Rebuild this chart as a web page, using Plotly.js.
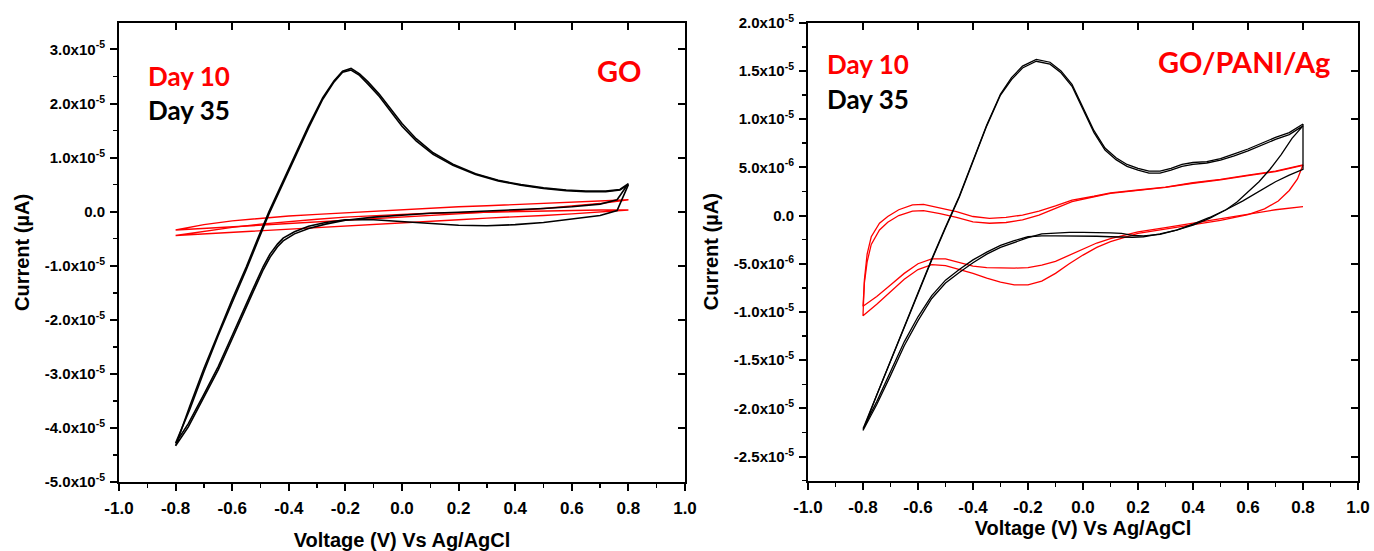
<!DOCTYPE html>
<html>
<head>
<meta charset="utf-8">
<script src="https://cdn.plot.ly/plotly-3.0.1.min.js"></script>
<style>html,body{margin:0;padding:0;background:#fff}#chart{width:1374px;height:551px}</style>
</head>
<body>
<div id="chart"></div>
<script>
// ---------- Axis ticks ----------
const xTickVals = [-1.0,-0.8,-0.6,-0.4,-0.2,0.0,0.2,0.4,0.6,0.8,1.0];
const xTickText = ["-1.0","-0.8","-0.6","-0.4","-0.2","0.0","0.2","0.4","0.6","0.8","1.0"];
// Left panel (GO): current in units of 1e-5
const goYTickVals = [-5,-4,-3,-2,-1,0,1,2,3];
const goYTickText = ["-5.0x10<sup>-5</sup>","-4.0x10<sup>-5</sup>","-3.0x10<sup>-5</sup>","-2.0x10<sup>-5</sup>","-1.0x10<sup>-5</sup>","0.0","1.0x10<sup>-5</sup>","2.0x10<sup>-5</sup>","3.0x10<sup>-5</sup>"];
// Right panel (GO/PANI/Ag): current in units of 1e-6
const paniYTickVals = [-25,-20,-15,-10,-5,0,5,10,15,20];
const paniYTickText = ["-2.5x10<sup>-5</sup>","-2.0x10<sup>-5</sup>","-1.5x10<sup>-5</sup>","-1.0x10<sup>-5</sup>","-5.0x10<sup>-6</sup>","0.0","5.0x10<sup>-6</sup>","1.0x10<sup>-5</sup>","1.5x10<sup>-5</sup>","2.0x10<sup>-5</sup>"];

// ---------- GO, Day 35 (black), units 1e-5 A ----------
const goBlkUpX = [0.80,0.77,0.72,0.65,0.58,0.50,0.42,0.34,0.26,0.18,0.11,0.05,0.00,-0.04,-0.08,-0.12,-0.15,-0.18,-0.21,-0.24,-0.28,-0.33,-0.38,-0.43,-0.47,-0.51,-0.55,-0.60,-0.65,-0.70,-0.75,-0.80];
const goBlkUpY1 = [0.52,0.41,0.38,0.38,0.40,0.44,0.50,0.58,0.70,0.88,1.09,1.35,1.63,1.90,2.17,2.40,2.55,2.65,2.60,2.42,2.11,1.59,1.02,0.45,0.00,-0.50,-1.02,-1.62,-2.25,-2.90,-3.60,-4.33];
const goBlkUpY2 = [0.50,0.40,0.37,0.37,0.39,0.43,0.49,0.57,0.69,0.86,1.06,1.31,1.58,1.86,2.13,2.36,2.52,2.62,2.58,2.40,2.08,1.55,0.98,0.41,-0.04,-0.55,-1.07,-1.68,-2.30,-2.96,-3.66,-4.28];
const goBlkLoX = [-0.755,-0.70,-0.649,-0.60,-0.572,-0.53,-0.49,-0.466,-0.44,-0.42,-0.38,-0.33,-0.27,-0.20,-0.10,0.00,0.10,0.20,0.30,0.40,0.50,0.60,0.70,0.76,0.80];
const goBlkLoY1 = [-3.98,-3.44,-2.92,-2.35,-2.01,-1.53,-1.07,-0.84,-0.65,-0.54,-0.41,-0.31,-0.23,-0.16,-0.10,-0.06,-0.03,-0.01,0.01,0.03,0.06,0.09,0.14,0.22,0.52];
const goBlkLoY2 = [-3.92,-3.38,-2.86,-2.29,-1.95,-1.47,-1.01,-0.78,-0.60,-0.49,-0.37,-0.27,-0.20,-0.15,-0.15,-0.18,-0.22,-0.25,-0.26,-0.24,-0.20,-0.14,-0.07,0.02,0.50];

// ---------- GO, Day 10 (red), units 1e-5 A ----------
const goRedX = [-0.80,-0.70,-0.60,-0.50,-0.40,-0.30,-0.20,-0.10,0.00,0.10,0.20,0.30,0.40,0.50,0.60,0.70,0.80];
const goRedUpY1 = [-0.34,-0.24,-0.17,-0.12,-0.08,-0.05,-0.02,0.01,0.04,0.06,0.09,0.11,0.13,0.15,0.17,0.19,0.22];
const goRedLoY1 = [-0.34,-0.31,-0.27,-0.24,-0.21,-0.18,-0.15,-0.12,-0.09,-0.06,-0.04,-0.01,0.02,0.06,0.10,0.15,0.22];
const goRedUpY2 = [-0.44,-0.36,-0.29,-0.23,-0.18,-0.14,-0.10,-0.07,-0.05,-0.03,-0.02,0.00,0.01,0.02,0.03,0.03,0.03];
const goRedLoY2 = [-0.44,-0.42,-0.39,-0.36,-0.33,-0.30,-0.27,-0.24,-0.21,-0.18,-0.15,-0.12,-0.09,-0.07,-0.04,-0.01,0.03];

// ---------- GO/PANI/Ag, Day 35 (black), units 1e-6 A ----------
const paniBlkUpX = [0.80,0.75,0.70,0.65,0.60,0.55,0.50,0.45,0.40,0.36,0.32,0.28,0.24,0.20,0.16,0.12,0.08,0.04,0.00,-0.04,-0.08,-0.12,-0.17,-0.22,-0.26,-0.30,-0.35,-0.40,-0.45,-0.50,-0.55,-0.60,-0.65,-0.70,-0.75,-0.80];
const paniBlkUpY1 = [9.5,8.6,8.1,7.5,6.9,6.4,5.9,5.6,5.5,5.3,4.9,4.6,4.6,4.9,5.3,6.0,7.0,8.8,11.2,13.6,15.0,15.9,16.2,15.5,14.3,12.6,9.4,5.7,2.0,-1.2,-4.5,-8.0,-11.5,-15.0,-18.6,-22.3];
const paniBlkUpY2 = [9.3,8.4,7.9,7.3,6.7,6.2,5.75,5.45,5.3,5.1,4.7,4.4,4.4,4.7,5.1,5.8,6.8,8.6,11.0,13.4,14.8,15.7,16.0,15.3,14.1,12.5,9.3,5.6,1.9,-1.3,-4.6,-8.1,-11.6,-15.1,-18.7,-22.1];
const paniBlkLoX1 = [-0.75,-0.70,-0.65,-0.60,-0.55,-0.50,-0.45,-0.40,-0.35,-0.30,-0.25,-0.20,-0.15,-0.10,-0.05,0.00,0.05,0.10,0.14,0.18,0.22,0.28,0.34,0.40,0.46,0.52,0.58,0.64,0.70,0.75,0.80,0.80];
const paniBlkLoY1 = [-19.6,-16.6,-13.5,-10.9,-8.6,-7.0,-5.9,-4.9,-4.0,-3.3,-2.8,-2.3,-1.9,-1.8,-1.75,-1.75,-1.75,-1.8,-1.85,-2.05,-2.1,-1.95,-1.5,-0.9,-0.2,0.6,1.5,2.5,3.5,4.2,4.8,9.5];
const paniBlkLoX2 = [-0.75,-0.70,-0.65,-0.60,-0.55,-0.50,-0.45,-0.40,-0.35,-0.30,-0.25,-0.20,-0.15,-0.10,-0.05,0.00,0.05,0.10,0.14,0.18,0.22,0.28,0.34,0.40,0.46,0.52,0.56,0.60,0.64,0.68,0.72,0.76,0.80];
const paniBlkLoY2 = [-19.3,-16.2,-13.1,-10.5,-8.3,-6.7,-5.6,-4.6,-3.8,-3.1,-2.6,-2.2,-2.1,-2.1,-2.1,-2.1,-2.15,-2.2,-2.25,-2.25,-2.2,-1.9,-1.5,-1.0,-0.3,0.6,1.4,2.4,3.5,4.8,6.3,8.0,9.3];

// ---------- GO/PANI/Ag, Day 10 (red), units 1e-6 A ----------
const paniRedUpX = [0.80,0.70,0.60,0.50,0.40,0.30,0.20,0.10,0.04,-0.04,-0.10,-0.16,-0.22,-0.28,-0.34,-0.40,-0.46,-0.52,-0.58,-0.62,-0.67,-0.71,-0.74,-0.77,-0.785,-0.795,-0.80];
const paniRedUpY1 = [5.26,4.6,4.2,3.75,3.4,2.95,2.65,2.35,2.0,1.6,1.0,0.45,0.05,-0.2,-0.3,-0.1,0.4,0.8,1.15,1.1,0.6,-0.1,-0.8,-2.2,-4.0,-6.7,-10.4];
const paniRedUpY2 = [5.2,4.55,4.15,3.7,3.35,2.92,2.62,2.3,1.95,1.45,0.75,0.05,-0.45,-0.72,-0.8,-0.65,-0.2,0.2,0.5,0.45,0.0,-0.7,-1.5,-3.0,-4.8,-7.0,-9.4];
const paniRedLoX1 = [-0.75,-0.70,-0.65,-0.60,-0.55,-0.50,-0.45,-0.40,-0.35,-0.30,-0.25,-0.20,-0.15,-0.10,-0.05,0.00,0.05,0.10,0.20,0.30,0.40,0.50,0.60,0.66,0.71,0.75,0.78,0.80];
const paniRedLoY1 = [-9.2,-7.9,-6.6,-5.6,-5.1,-5.2,-5.6,-6.0,-6.5,-6.9,-7.2,-7.2,-6.8,-6.0,-5.0,-4.1,-3.3,-2.7,-1.85,-1.4,-1.0,-0.5,0.1,0.7,1.5,2.6,3.8,5.26];
const paniRedLoX2 = [-0.75,-0.70,-0.65,-0.60,-0.55,-0.50,-0.45,-0.40,-0.35,-0.30,-0.25,-0.20,-0.15,-0.10,-0.05,0.00,0.05,0.10,0.20,0.30,0.40,0.50,0.60,0.70,0.80];
const paniRedLoY2 = [-8.4,-7.2,-6.0,-5.0,-4.5,-4.5,-4.9,-5.25,-5.4,-5.45,-5.45,-5.4,-5.15,-4.75,-4.1,-3.45,-2.85,-2.4,-1.7,-1.25,-0.8,-0.35,0.1,0.6,0.93];

// ---------- build traces ----------
const RED = '#ff0000', BLACK = '#000000';
function tr(x, y, color, w, xa, ya) {
  return {type:'scatter', mode:'lines', x:x, y:y, xaxis:xa, yaxis:ya,
          line:{color:color, width:w}, hoverinfo:'skip', showlegend:false};
}
const traces = [
  tr(goRedX.concat(goRedX.slice().reverse()), goRedUpY1.concat(goRedLoY1.slice().reverse()), RED, 1.4, 'x', 'y'),
  tr(goRedX.concat(goRedX.slice().reverse()), goRedUpY2.concat(goRedLoY2.slice().reverse()), RED, 1.4, 'x', 'y'),
  tr(goBlkUpX.concat(goBlkLoX), goBlkUpY1.concat(goBlkLoY1), BLACK, 1.6, 'x', 'y'),
  tr(goBlkUpX.concat(goBlkLoX), goBlkUpY2.concat(goBlkLoY2), BLACK, 1.6, 'x', 'y'),
  tr(paniRedUpX.concat(paniRedLoX1), paniRedUpY1.concat(paniRedLoY1), RED, 1.3, 'x2', 'y2'),
  tr(paniRedUpX.concat(paniRedLoX2), paniRedUpY2.concat(paniRedLoY2), RED, 1.3, 'x2', 'y2'),
  tr(paniBlkUpX.concat(paniBlkLoX1), paniBlkUpY1.concat(paniBlkLoY1), BLACK, 1.3, 'x2', 'y2'),
  tr(paniBlkUpX.concat(paniBlkLoX2), paniBlkUpY2.concat(paniBlkLoY2), BLACK, 1.3, 'x2', 'y2'),
  // empty traces that register the mirror (top / right) axes
  tr([], [], BLACK, 1, 'x3', 'y'),
  tr([], [], BLACK, 1, 'x', 'y3'),
  tr([], [], BLACK, 1, 'x4', 'y2'),
  tr([], [], BLACK, 1, 'x2', 'y4')
];

const W = 1374, H = 551;
const xTickFont = {family:'Arial, "Liberation Sans", sans-serif', size:17, color:'#000', weight:'bold'};
const yTickFont = {family:'Arial, "Liberation Sans", sans-serif', size:15, color:'#000', weight:'bold'};
const titleFont = {family:'Arial, "Liberation Sans", sans-serif', size:20, color:'#000', weight:'bold'};

function xMain(domain, anchor, standoff) {
  return {domain:domain, anchor:anchor, range:[-1,1], tickmode:'array', tickvals:xTickVals, ticktext:xTickText,
    ticks:'outside', ticklen:7, tickwidth:2, tickcolor:'#000', showline:true, linewidth:2, linecolor:'#000',
    showgrid:false, zeroline:false, tickfont:xTickFont, ticklabelstandoff:3,
    minor:{ticks:'outside', ticklen:4, tickwidth:1.5, tickcolor:'#000', tick0:-1, dtick:0.1},
    title:{text:'Voltage (V) Vs Ag/AgCl', font:titleFont, standoff:standoff}};
}
function yMain(domain, anchor, range, vals, text, minorStep) {
  return {domain:domain, anchor:anchor, range:range, tickmode:'array', tickvals:vals, ticktext:text,
    ticks:'outside', ticklen:7, tickwidth:2, tickcolor:'#000', showline:true, linewidth:2, linecolor:'#000',
    showgrid:false, zeroline:false, tickfont:yTickFont, ticklabelstandoff:2,
    minor:{ticks:'outside', ticklen:4, tickwidth:1.5, tickcolor:'#000', tick0:0, dtick:minorStep},
    title:{text:'Current (µA)', font:titleFont, standoff:10}};
}
function mirrorX(over, anchor) {
  return {overlaying:over, anchor:anchor, side:'top', range:[-1,1], tickmode:'array', tickvals:xTickVals,
    ticks:'inside', ticklen:7, tickwidth:2, tickcolor:'#000', showticklabels:false,
    showline:true, linewidth:2, linecolor:'#000', showgrid:false, zeroline:false};
}
function mirrorY(over, anchor, range, vals) {
  return {overlaying:over, anchor:anchor, side:'right', range:range, tickmode:'array', tickvals:vals,
    ticks:'inside', ticklen:7, tickwidth:2, tickcolor:'#000', showticklabels:false,
    showline:true, linewidth:2, linecolor:'#000', showgrid:false, zeroline:false};
}

const goYRange = [-5, 3.49];
const paniYRange = [-27.5, 20];
const dL = [119/W, 685/W], dR = [808/W, 1358/W];
const yL = [(H-482)/H, (H-23)/H], yR = [(H-480.7)/H, (H-22.7)/H];

const annFont = (c, s) => ({family:'Lato, "Open Sans", sans-serif', size:s, color:c, weight:'bold'});
const layout = {
  width:W, height:H, margin:{l:0, r:0, t:0, b:0}, paper_bgcolor:'#fff', plot_bgcolor:'#fff', showlegend:false,
  xaxis: xMain(dL, 'y', 16),
  yaxis: yMain(yL, 'x', goYRange, goYTickVals, goYTickText, 0.5),
  xaxis2: xMain(dR, 'y2', 4),
  yaxis2: yMain(yR, 'x2', paniYRange, paniYTickVals, paniYTickText, 2.5),
  xaxis3: mirrorX('x', 'y'),
  yaxis3: mirrorY('y', 'x', goYRange, goYTickVals),
  xaxis4: mirrorX('x2', 'y2'),
  yaxis4: mirrorY('y2', 'x2', paniYRange, paniYTickVals),
  annotations: [
    {xref:'paper', yref:'paper', x:146/W, y:(H-76)/H, xanchor:'left', yanchor:'middle', showarrow:false, text:'Day 10', font:annFont(RED, 26)},
    {xref:'paper', yref:'paper', x:146/W, y:(H-110)/H, xanchor:'left', yanchor:'middle', showarrow:false, text:'Day 35', font:annFont(BLACK, 26)},
    {xref:'paper', yref:'paper', x:595/W, y:(H-70)/H, xanchor:'left', yanchor:'middle', showarrow:false, text:'GO', font:annFont(RED, 29)},
    {xref:'paper', yref:'paper', x:825/W, y:(H-64)/H, xanchor:'left', yanchor:'middle', showarrow:false, text:'Day 10', font:annFont(RED, 26)},
    {xref:'paper', yref:'paper', x:825/W, y:(H-99)/H, xanchor:'left', yanchor:'middle', showarrow:false, text:'Day 35', font:annFont(BLACK, 26)},
    {xref:'paper', yref:'paper', x:1156/W, y:(H-61)/H, xanchor:'left', yanchor:'middle', showarrow:false, text:'GO/PANI/Ag', font:annFont(RED, 29)}
  ]
};

Plotly.newPlot('chart', traces, layout, {displayModeBar:false, staticPlot:true});
</script>
</body>
</html>
